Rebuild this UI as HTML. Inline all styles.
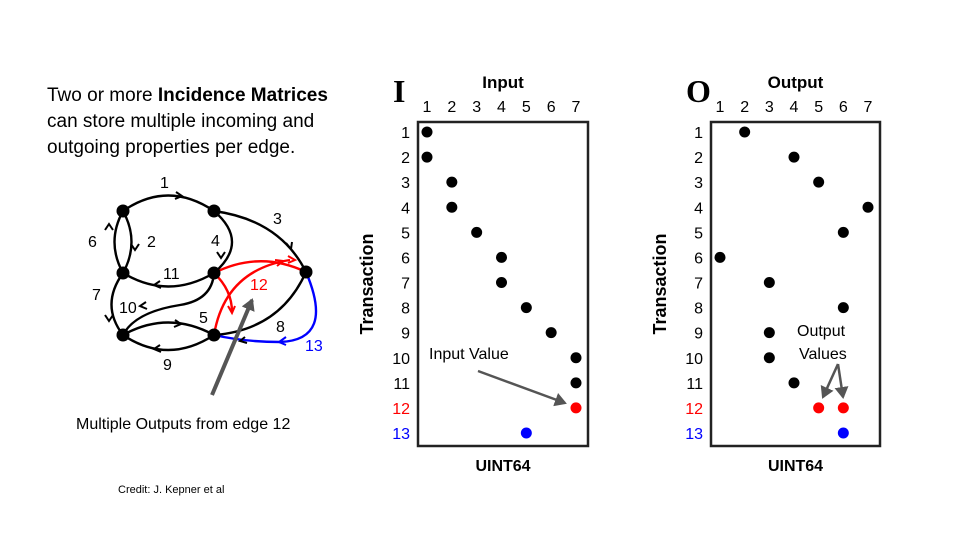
<!DOCTYPE html>
<html><head><meta charset="utf-8"><style>
body{margin:0;background:#fff;}
svg{display:block;font-family:"Liberation Sans",Arial,sans-serif;}
</style></head><body>
<svg id="s" width="960" height="540" viewBox="0 0 960 540">
<defs>
<marker id="ag" markerWidth="14" markerHeight="14" refX="10" refY="7" orient="auto" markerUnits="userSpaceOnUse"><path d="M0,0 L12,7 L0,14 Z" fill="#555"/></marker>
</defs>
<g font-size="19" fill="#000">
<text x="47" y="101">Two or more <tspan font-weight="bold">Incidence Matrices</tspan></text>
<text x="47" y="127">can store multiple incoming and</text>
<text x="47" y="153">outgoing properties per edge.</text>
</g>
<g fill="none" stroke="#000" stroke-width="2.4">
<path d="M123,211 Q168,180 214,211"/>
<path d="M123,211 Q140,242 123,273"/>
<path d="M123,273 Q106,242 123,211"/>
<path d="M214,211 Q280,220 306,272"/>
<path d="M214,211 Q250,242 214,273"/>
<path d="M214,273 Q168,300 123,273"/>
<path d="M123,273 Q100,305 123,335"/>
<path d="M214,273 Q212,300 180,305 Q135,312 123,335"/>
<path d="M123,335 Q168,310 214,335"/>
<path d="M214,335 Q168,365 123,335"/>
<path d="M306,272 Q280,330 214,335"/>
<path d="M214,273 Q260,250 306,272" stroke="#f00"/>
<path d="M214,273 Q232,290 232,312" stroke="#f00"/>
<path d="M214,335 Q225,270 290,260" stroke="#f00"/>
<path d="M306,272 Q335,340 280,342 Q245,342 214,335" stroke="#00f"/>
</g>
<g fill="none" stroke-width="2">
<path d="M176,192 l6,4 l-7,3" stroke="#000"/><path d="M139,244 l-4,6 l-4,-6" stroke="#000"/>
<path d="M105,230 l4,-6 l4,6" stroke="#000"/><path d="M286,243 l5,6 l1,-7" stroke="#000"/>
<path d="M225,252 l-4,6 l-4,-6" stroke="#000"/><path d="M160,281 l-6,4 l7,3" stroke="#000"/>
<path d="M105,315 l4,6 l4,-6" stroke="#000"/><path d="M146,302 l-6,4 l7,3" stroke="#000"/>
<path d="M175,320 l6,4 l-7,3" stroke="#000"/><path d="M160,345 l-6,4 l7,3" stroke="#000"/>
<path d="M245,337 l-5,4 l7,2" stroke="#000"/><path d="M288,256 l7,4 l-7,3" stroke="#f00"/>
<path d="M228,306 l4,7 l3,-7" stroke="#f00"/><path d="M275,260 l8,1 l-6,5" stroke="#f00"/>
<path d="M286,337 l-7,5 l7,3" stroke="#00f"/>
</g>
<g fill="#000">
<circle cx="123" cy="211" r="6.5"/><circle cx="214" cy="211" r="6.5"/><circle cx="306" cy="272" r="6.5"/>
<circle cx="123" cy="273" r="6.5"/><circle cx="214" cy="273" r="6.5"/><circle cx="123" cy="335" r="6.5"/><circle cx="214" cy="335" r="6.5"/>
</g>
<g font-size="16" fill="#000">
<text x="160" y="188">1</text><text x="147" y="247">2</text><text x="273" y="224">3</text><text x="211" y="246">4</text>
<text x="199" y="323">5</text><text x="88" y="247">6</text><text x="92" y="300">7</text><text x="276" y="332">8</text>
<text x="163" y="370">9</text><text x="119" y="313">10</text><text x="163" y="279">11</text>
<text x="250" y="290" fill="#f00">12</text><text x="305" y="351" fill="#00f">13</text>
</g>
<line x1="212" y1="395" x2="252" y2="300" stroke="#555" stroke-width="4" marker-end="url(#ag)"/>
<text x="76" y="429" font-size="16">Multiple Outputs from edge 12</text>
<text x="118" y="493" font-size="11">Credit: J. Kepner et al</text>
<g id="mI"></g>
<g id="mO"></g>
<line x1="478" y1="371" x2="565" y2="403" stroke="#555" stroke-width="2.5" marker-end="url(#ag)"/>
<text x="429" y="359" font-size="16">Input Value</text>
<text x="797" y="336" font-size="16">Output</text>
<text x="799" y="359" font-size="16">Values</text>
<line x1="838" y1="364" x2="823" y2="397" stroke="#555" stroke-width="2.5" marker-end="url(#ag)"/>
<line x1="838" y1="364" x2="843" y2="397" stroke="#555" stroke-width="2.5" marker-end="url(#ag)"/>
</svg>
<script>
const rowLabels=[1,2,3,4,5,6,7,8,9,10,11,12,13];
const colLabels=[1,2,3,4,5,6,7];
const inputCols=[1,1,2,2,3,4,4,5,6,7,7,7,5];
const outputRows=[1,2,3,4,5,6,7,8,9,10,11,12,12,13];
const outputCols=[2,4,5,7,6,1,3,6,3,3,4,5,6,6];
const NS='http://www.w3.org/2000/svg';
function rowColor(r){return r===12?'#f00':r===13?'#00f':'#000';}
function mk(p,tag,a){const e=document.createElementNS(NS,tag);for(const k in a)e.setAttribute(k,a[k]);p.appendChild(e);return e;}
function draw(g,x0,x1,title,letter,rows,cols){
  const y0=122,y1=446,cx0=x0+9,cx1=x1-12,ry0=132,ry1=433;
  const xs=c=>cx0+(c-1)*(cx1-cx0)/6, ys=r=>ry0+(r-1)*(ry1-ry0)/12;
  const box=mk(g,'rect',{x:x0,y:y0,width:x1-x0,height:y1-y0,fill:'none',stroke:'#222','stroke-width':2.5});
  
  
  const t=mk(g,'text',{x:(x0+x1)/2,y:88,'font-size':17,'font-weight':'bold','text-anchor':'middle'});t.textContent=title;
  
  
  const L=mk(g,'text',{x:x0-25,y:102,'font-size':32,'font-weight':'bold','font-family':'Liberation Serif,serif'});L.textContent=letter;
  
  
  colLabels.forEach(c=>{const e=mk(g,'text',{x:xs(c),y:112,'font-size':16,'text-anchor':'middle'});e.textContent=c;
    
    });
  rowLabels.forEach(r=>{const e=mk(g,'text',{x:x0-8,y:ys(r)+6,'font-size':16,'text-anchor':'end',fill:rowColor(r)});e.textContent=r;
    
    });
  const yt=mk(g,'text',{x:0,y:0,'font-size':18,'font-weight':'bold','text-anchor':'middle',transform:`translate(${x0-45},${(y0+y1)/2}) rotate(-90)`});yt.textContent='Transaction';
  
  
  const xt=mk(g,'text',{x:(x0+x1)/2,y:471,'font-size':16,'font-weight':'bold','text-anchor':'middle'});xt.textContent='UINT64';
  
  
  rows.forEach((r,i)=>{const d=mk(g,'circle',{cx:xs(cols[i]),cy:ys(r),r:5.5,fill:rowColor(r)});
    
    });
}
draw(document.getElementById('mI'),418,588,'Input','I',rowLabels,inputCols);
draw(document.getElementById('mO'),711,880,'Output','O',outputRows,outputCols);
</script>
</body></html>
